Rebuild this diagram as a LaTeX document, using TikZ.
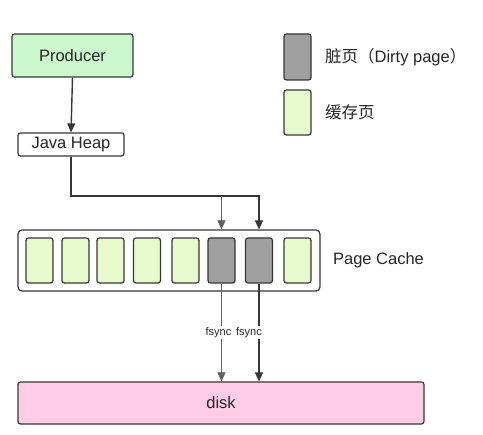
\documentclass[tikz,border=0pt]{standalone}
\usepackage{fontspec}
\setmainfont{Liberation Sans}
\newfontfamily\cjk{Noto Sans CJK SC}
\usetikzlibrary{positioning,arrows.meta}
\definecolor{figline}{RGB}{55,55,55}
\definecolor{prodgreen}{RGB}{204,247,204}
\definecolor{pagegreen}{RGB}{230,250,206}
\definecolor{dirtygrey}{RGB}{160,160,160}
\definecolor{diskpink}{RGB}{255,204,230}
\tikzset{
  fig/.style={font=\fontsize{16.5}{19}\selectfont,text=black!85},
  box/.style={draw=figline,line width=1.2pt,rounded corners=2.5pt,align=center,inner sep=0pt},
  page/.style={box,minimum width=27pt,minimum height=45pt,fill=pagegreen},
  dirty/.style={page,fill=dirtygrey},
  ln/.style={-{Triangle[length=9pt,width=8pt]},line width=1.4pt,draw=figline},
  lnthin/.style={-{Triangle[length=9pt,width=8pt]},line width=0.6pt,draw=figline!80},
  lbl/.style={font=\fontsize{11}{12}\selectfont,fill=white,inner sep=1pt},
}

\begin{document}
\begin{tikzpicture}[fig,x=1pt,y=-1pt]
\useasboundingbox (0,0) rectangle (483,435);

\node[box,fill=prodgreen,minimum width=121pt,minimum height=43pt] (prod) at (72.5,55.5) {Producer};
\node[box,fill=white,minimum width=106pt,minimum height=23pt] (heap) at (71,144.5) {Java Heap};

\node[box,fill=white,rounded corners=4pt,minimum width=302pt,minimum height=61pt] (cache) at (169,260.5) {};
\node[right=9pt of cache] (cachelbl) {Page Cache};
\foreach \x/\s [count=\i] in {39.5/page,75.5/page,110.5/page,147/page,185.5/page,221.5/dirty,259/dirty,297.5/page}
  \node[\s] (pg\i) at (\x,260.5) {};

\node[box,fill=diskpink,minimum width=406pt,minimum height=42pt] (disk) at (221,403) {disk};

\node[dirty,minimum height=46pt] (legd) at (297.5,57) {};
\node[right=10pt of legd] (legdlbl) {{\cjk 脏页（}Dirty page{\cjk ）}};
\node[page] (legc) at (297.5,112.5) {};
\node[right=10pt of legc] (legclbl) {\cjk 缓存页};

\coordinate (turn) at (heap.south |- 0,196);
\draw[ln] (prod.south) -- (heap.north);
\draw[ln] (heap.south) |- (pg7 |- turn) -- (pg7 |- cache.north);
\draw[lnthin] (pg6 |- turn) -- (pg6 |- cache.north);
\draw[lnthin] (pg6.south) -- node[lbl,xshift=-3pt]{fsync} (pg6 |- disk.north);
\draw[ln] (pg7.south) -- node[lbl,xshift=-10pt]{fsync} (pg7 |- disk.north);

\end{tikzpicture}
\end{document}
